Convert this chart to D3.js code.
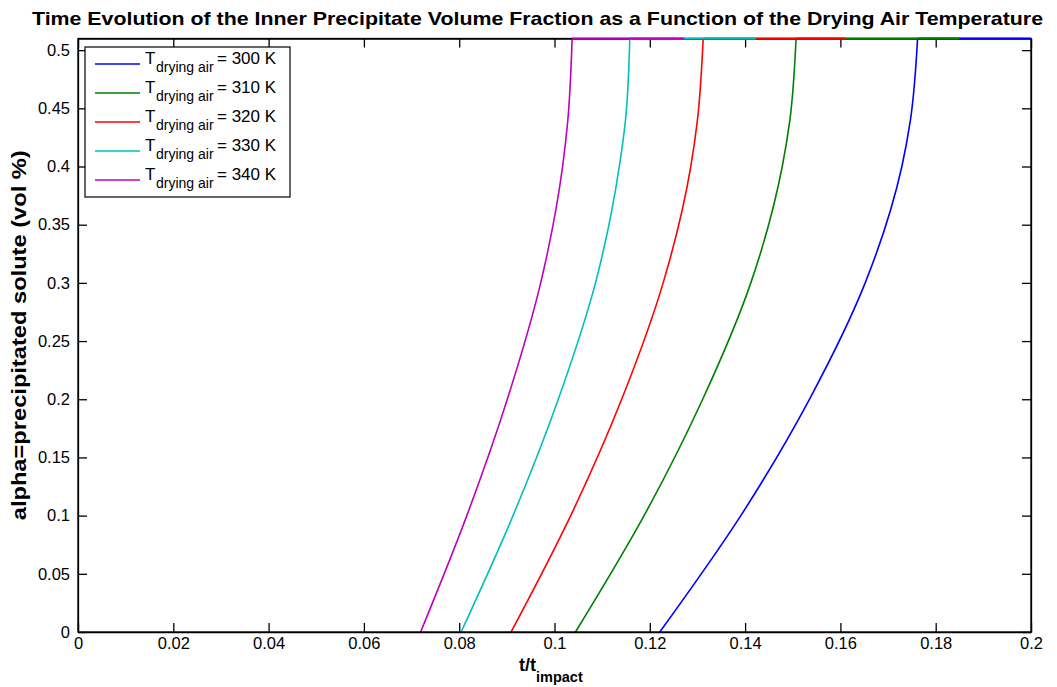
<!DOCTYPE html>
<html>
<head>
<meta charset="utf-8">
<script src="https://cdn.jsdelivr.net/npm/d3@7"></script>
<style>
  body { margin: 0; background: #fff; }
  text { font-family: "Liberation Sans", Arial, Helvetica, sans-serif; }
</style>
</head>
<body>
<svg width="1057" height="687"></svg>
<script>
// values: [t/t_impact, alpha]
const temps = [300, 310, 320, 330, 340];
const colors = ["#0000ff", "#008000", "#ff0000", "#00bfbf", "#bf00bf"];
const t300 = [[0.1221, 0], [0.1391, 0.1], [0.1535, 0.2], [0.1652, 0.3], [0.1729, 0.4], [0.1747, 0.44], [0.1762, 0.51], [0.2, 0.51]];
const t310 = [[0.1044, 0], [0.1188, 0.1], [0.1311, 0.2], [0.1412, 0.3], [0.1478, 0.4], [0.1494, 0.44], [0.1507, 0.51], [0.1849, 0.51]];
const t320 = [[0.0909, 0], [0.1034, 0.1], [0.1141, 0.2], [0.1228, 0.3], [0.1286, 0.4], [0.1300, 0.44], [0.1312, 0.51], [0.1610, 0.51]];
const t330 = [[0.0804, 0], [0.0913, 0.1], [0.1008, 0.2], [0.1086, 0.3], [0.1136, 0.4], [0.1149, 0.44], [0.1158, 0.51], [0.1423, 0.51]];
const t340 = [[0.0719, 0], [0.0816, 0.1], [0.0901, 0.2], [0.0971, 0.3], [0.1017, 0.4], [0.1028, 0.44], [0.1037, 0.51], [0.1272, 0.51]];
const series = [t300, t310, t320, t330, t340];
const xTicks = [0, 0.02, 0.04, 0.06, 0.08, 0.1, 0.12, 0.14, 0.16, 0.18, 0.2];
const yTicks = [0, 0.05, 0.1, 0.15, 0.2, 0.25, 0.3, 0.35, 0.4, 0.45, 0.5];

const svg = d3.select("svg"),
      margin = {top: 38.5, right: 26, bottom: 55, left: 78},
      width = 1057 - margin.left - margin.right,
      height = 687 - margin.top - margin.bottom,
      g = svg.append("g").attr("transform", `translate(${margin.left},${margin.top})`);

const x = d3.scaleLinear().domain([0, 0.2]).range([0, width]);
const y = d3.scaleLinear().domain([0, 0.51]).range([height, 0]);
const fmt = d => d === 0 ? "0" : String(+d.toFixed(2));

// axes (MATLAB style: ticks inward on all four sides)
const tk = 9;
g.append("g").attr("transform", `translate(0,${height})`)
  .call(d3.axisBottom(x).tickValues(xTicks).tickSizeInner(-tk).tickSizeOuter(0).tickPadding(5).tickFormat(fmt));
g.append("g")
  .call(d3.axisTop(x).tickValues(xTicks).tickSizeInner(-tk).tickSizeOuter(0).tickFormat(""));
g.append("g")
  .call(d3.axisLeft(y).tickValues(yTicks).tickSizeInner(-tk).tickSizeOuter(0).tickPadding(8).tickFormat(fmt));
g.append("g").attr("transform", `translate(${width},0)`)
  .call(d3.axisRight(y).tickValues(yTicks).tickSizeInner(-tk).tickSizeOuter(0).tickFormat(""));
g.selectAll(".tick text").style("font-size", "16.5px").attr("fill", "#000");
g.selectAll(".domain, .tick line").attr("stroke", "#000").attr("stroke-width", 1.3);

// rising part is smooth in alpha, then a flat run at the top
const rise = d3.line().x(d => x(d[0])).y(d => y(d[1])).curve(d3.curveMonotoneY);
const flat = d3.line().x(d => x(d[0])).y(d => y(d[1]));
series.forEach((s, i) => {
  g.append("path").datum(s.slice(0, -1))
    .attr("fill", "none").attr("stroke", colors[i]).attr("stroke-width", 1.6)
    .attr("d", rise);
});

// box outline, then the flat runs on top of it
g.append("rect").attr("width", width).attr("height", height)
  .attr("fill", "none").attr("stroke", "#000").attr("stroke-width", 1.3);
series.forEach((s, i) => {
  g.append("path").datum(s.slice(-2))
    .attr("fill", "none").attr("stroke", colors[i]).attr("stroke-width", 2)
    .attr("d", flat);
});

// title
svg.append("text")
  .attr("x", 32).attr("y", 25)
  .attr("textLength", 1011).attr("lengthAdjust", "spacingAndGlyphs")
  .style("font-size", "18.5px").style("font-weight", "bold")
  .text("Time Evolution of the Inner Precipitate Volume Fraction as a Function of the Drying Air Temperature");

// x label
const xl = svg.append("text")
  .attr("x", 519).attr("y", 671)
  .style("font-weight", "bold").style("font-size", "18px");
xl.append("tspan").text("t/t");
xl.append("tspan").attr("dy", 11).style("font-size", "14.5px").text("impact");

// y label
svg.append("text")
  .attr("transform", `translate(26,${margin.top + height / 2}) rotate(-90)`)
  .attr("x", -185)
  .attr("textLength", 370).attr("lengthAdjust", "spacingAndGlyphs")
  .style("font-weight", "bold").style("font-size", "20px")
  .text("alpha=precipitated solute (vol %)");

// legend
const lg = svg.append("g").attr("transform", "translate(85,47)");
lg.append("rect").attr("width", 205).attr("height", 150)
  .attr("fill", "#fff").attr("stroke", "#000").attr("stroke-width", 1.2);
temps.forEach((T, i) => {
  const yy = 17 + i * 29;
  lg.append("line").attr("x1", 10).attr("x2", 55).attr("y1", yy).attr("y2", yy)
    .attr("stroke", colors[i]).attr("stroke-width", 1.6);
  const t = lg.append("text").attr("x", 60).attr("y", yy - 0.5).style("font-size", "17px");
  t.append("tspan").text("T");
  t.append("tspan").attr("x", 71).attr("dy", 8).style("font-size", "14px").text("drying air");
  t.append("tspan").attr("x", 132).attr("dy", -8).text(`= ${T} K`);
});
</script>
</body>
</html>
